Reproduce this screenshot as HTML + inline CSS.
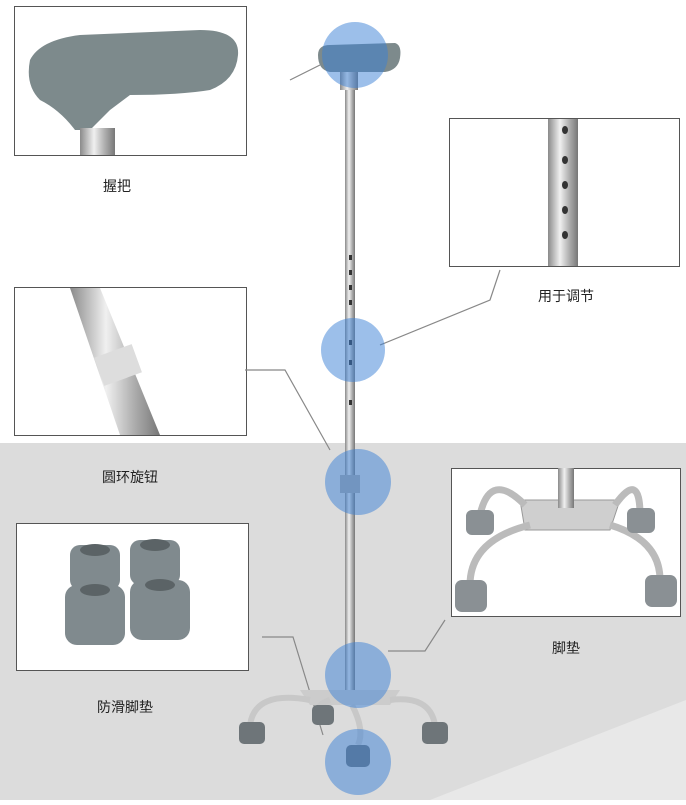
<!DOCTYPE html>
<html><head><meta charset="utf-8"><style>
body{margin:0;width:686px;height:800px;overflow:hidden;background:#fff;font-family:"Liberation Sans","Noto Sans CJK SC",sans-serif}
</style></head><body>
<svg width="686" height="800" xmlns="http://www.w3.org/2000/svg">
<defs>
<linearGradient id="steel" x1="0" x2="1"><stop offset="0" stop-color="#8a8a8a"/><stop offset="0.4" stop-color="#f0f0f0"/><stop offset="0.7" stop-color="#b0b0b0"/><stop offset="1" stop-color="#777"/></linearGradient>
</defs>
<rect x="0" y="443" width="686" height="357" fill="#dcdcdc"/>
<polygon points="430,800 686,700 686,800" fill="#e8e8e8"/>
<!-- boxes -->
<g fill="#fff" stroke="#555" stroke-width="1">
<rect x="14.5" y="6.5" width="232" height="149"/>
<rect x="449.5" y="118.5" width="230" height="148"/>
<rect x="14.5" y="287.5" width="232" height="148"/>
<rect x="16.5" y="523.5" width="232" height="147"/>
<rect x="451.5" y="468.5" width="229" height="148"/>
</g>
<!-- box1 grip -->
<path d="M30,60 Q40,40 80,35 L200,30 Q240,30 238,55 Q236,80 210,90 Q180,95 130,95 L110,110 L90,130 L75,130 Q60,110 40,100 Q25,85 30,60Z" fill="#7d8a8c"/>
<rect x="80" y="128" width="35" height="27" fill="url(#steel)"/>
<!-- box2 tube -->
<rect x="548" y="119" width="30" height="147" fill="url(#steel)"/>
<g fill="#333"><ellipse cx="565" cy="130" rx="3" ry="4"/><ellipse cx="565" cy="160" rx="3" ry="4"/><ellipse cx="565" cy="185" rx="3" ry="4"/><ellipse cx="565" cy="210" rx="3" ry="4"/><ellipse cx="565" cy="235" rx="3" ry="4"/></g>
<!-- box3 tube -->
<polygon points="70,288 100,288 160,435 120,435" fill="url(#steel)"/>
<rect x="98" y="350" width="40" height="30" fill="#ddd" transform="rotate(-20 118 365)"/>
<!-- box4 feet -->
<g fill="#808a8e">
<rect x="70" y="545" width="50" height="45" rx="10"/><rect x="130" y="540" width="50" height="45" rx="10"/>
<rect x="65" y="585" width="60" height="60" rx="12"/><rect x="130" y="580" width="60" height="60" rx="12"/>
</g>
<g fill="#5b6366"><ellipse cx="95" cy="550" rx="15" ry="6"/><ellipse cx="155" cy="545" rx="15" ry="6"/><ellipse cx="95" cy="590" rx="15" ry="6"/><ellipse cx="160" cy="585" rx="15" ry="6"/></g>
<!-- box5 quad base -->
<polygon points="520,500 620,500 610,530 525,530" fill="#cfcfcf" stroke="#999"/>
<g fill="none" stroke="#bbb" stroke-width="7">
<path d="M525,505 Q490,470 480,515"/><path d="M615,505 Q640,470 640,515"/>
<path d="M530,525 Q470,540 470,585"/><path d="M610,525 Q660,540 660,580"/>
</g>
<g fill="#8a9094"><rect x="466" y="510" width="28" height="25" rx="6"/><rect x="627" y="508" width="28" height="25" rx="6"/><rect x="455" y="580" width="32" height="32" rx="7"/><rect x="645" y="575" width="32" height="32" rx="7"/></g>
<rect x="558" y="468" width="16" height="40" fill="url(#steel)"/>
<!-- connector lines -->
<g stroke="#888" fill="none" stroke-width="1.2">
<polyline points="290,80 320,65"/>
<polyline points="380,345 490,300 500,270"/>
<polyline points="245,370 285,370 330,450"/>
<polyline points="262,637 293,637 323,735"/>
<polyline points="388,651 425,651 445,620"/>
</g>
<!-- cane -->
<rect x="345" y="70" width="10" height="620" fill="url(#steel)"/>
<path d="M318,55 Q318,45 330,45 L395,43 Q402,45 400,58 Q398,70 385,72 L330,72 Q318,70 318,55Z" fill="#7d8a8c"/>
<rect x="340" y="72" width="18" height="18" fill="url(#steel)"/>
<g fill="#333"><rect x="349" y="255" width="3" height="5"/><rect x="349" y="270" width="3" height="5"/><rect x="349" y="285" width="3" height="5"/><rect x="349" y="300" width="3" height="5"/><rect x="349" y="340" width="3" height="5"/><rect x="349" y="360" width="3" height="5"/><rect x="349" y="400" width="3" height="5"/></g>
<rect x="340" y="475" width="20" height="18" fill="#aaa"/>
<polygon points="300,690 400,690 390,705 310,705" fill="#ccc"/>
<g fill="none" stroke="#c8c8c8" stroke-width="6">
<path d="M310,700 Q255,690 250,725"/><path d="M390,700 Q430,695 435,725"/><path d="M330,700 Q315,705 322,710"/><path d="M352,705 Q365,730 358,745"/>
</g>
<g fill="#6e7579"><rect x="239" y="722" width="26" height="22" rx="5"/><rect x="422" y="722" width="26" height="22" rx="5"/><rect x="312" y="705" width="22" height="20" rx="5"/><rect x="346" y="745" width="24" height="22" rx="5"/></g>
<!-- blue circles -->
<g fill="#3a7fd6" fill-opacity="0.5">
<circle cx="355" cy="55" r="33"/><circle cx="353" cy="350" r="32"/><circle cx="358" cy="482" r="33"/><circle cx="358" cy="675" r="33"/><circle cx="358" cy="762" r="33"/>
</g>
<g font-size="14" fill="#222" text-anchor="middle">
<text x="117" y="191">握把</text>
<text x="566" y="301">用于调节</text>
<text x="130" y="482">圆环旋钮</text>
<text x="125" y="712">防滑脚垫</text>
<text x="566" y="653">脚垫</text>
</g>
</svg>
</body></html>
